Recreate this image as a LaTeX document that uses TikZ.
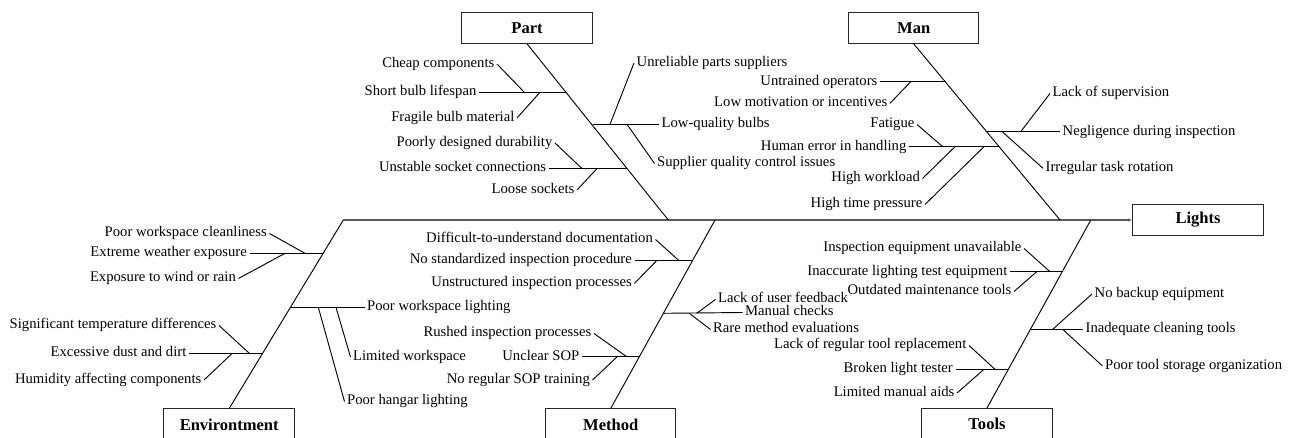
\documentclass[tikz,border=0pt]{standalone}
\usepackage{fontspec}
\setmainfont{Liberation Serif}
\usetikzlibrary{arrows.meta}
\begin{document}
\begin{tikzpicture}[x=0.75pt,y=-0.75pt,
  cat/.style={draw=black!85, line width=0.75pt, minimum width=97.9pt,
    minimum height=23.3pt, inner sep=0pt,
    font=\fontsize{12.4}{14}\selectfont\bfseries},
  lbl/.style={inner sep=1.8pt, font=\fontsize{11}{13}\selectfont,
    text height=7.5pt, text depth=2.3pt},
  le/.style={lbl, anchor=east},
  lw/.style={lbl, anchor=west},
  bone/.style={draw=black, line width=0.7pt},
  spine/.style={draw=black!65, line width=1.1pt}]
\useasboundingbox (0,0) rectangle (1292,438);

% category boxes and effect
\node[cat] (part)   at (527,27.7)    {Part};
\node[cat] (man)    at (913.7,27.8)  {Man};
\node[cat] (lights) at (1198,220)    {Lights};
\node[cat] (env)    at (229.2,424.5) {Environtment};
\node[cat] (method) at (610.7,424.5) {Method};
\node[cat] (tools)  at (987,424)     {Tools};

% spine and main bones
\coordinate (esp) at (343.3,220);
\coordinate (psp) at (668.3,220);
\coordinate (nsp) at (1060,220);
\coordinate (msp) at (715,220);
\coordinate (tsp) at (1090.8,220);
\draw[spine,-{Latex[length=3pt,width=2.4pt]}] (esp) -- (lights.west);
\draw[bone] (part.south) -- (psp);
\draw[bone] (man.south) -- (nsp);
\draw[bone] (env.north) -- (esp);
\draw[bone] (method.north) -- (msp);
\draw[bone] (tools.north) -- (tsp);

% ---- Part ----
\coordinate (p1) at (567.1,92.3);
\coordinate (p2) at (627.3,168.3);
\coordinate (p3) at (592.5,124.3);
\coordinate (p1a) at (524.3,92.3);
\coordinate (p1b) at (540,92.3);
\coordinate (p2a) at (581.7,168.3);
\coordinate (p2b) at (597.3,168.3);
\coordinate (p3a) at (610,124.3);
\coordinate (p3b) at (627,124.3);
\node[le] (cheap)   at (497,64)      {Cheap components};
\node[le] (short)   at (479,92.3)    {Short bulb lifespan};
\node[le] (fragile) at (517,118)     {Fragile bulb material};
\node[le] (durab)   at (555,143)     {Poorly designed durability};
\node[le] (unstab)  at (548.7,168.3) {Unstable socket connections};
\node[le] (loose)   at (577,190)     {Loose sockets};
\node[lw] (unrel)   at (634,63)      {Unreliable parts suppliers};
\node[lw] (lowq)    at (659,124.3)   {Low-quality bulbs};
\node[lw] (suppq)   at (654.5,163.5) {Supplier quality control issues};
\draw[bone] (short.east) -- (p1);
\draw[bone] (cheap.east) -- (p1a);
\draw[bone] (fragile.east) -- (p1b);
\draw[bone] (unstab.east) -- (p2);
\draw[bone] (durab.east) -- (p2a);
\draw[bone] (loose.east) -- (p2b);
\draw[bone] (p3) -- (lowq.west);
\draw[bone] (p3a) -- (unrel.west);
\draw[bone] (p3b) -- (suppq.west);

% ---- Man ----
\coordinate (m1) at (945.5,81.7);
\coordinate (m2) at (999.3,146.7);
\coordinate (m3) at (986.9,131.7);
\coordinate (m1a) at (910.7,81.7);
\coordinate (m2a) at (942.7,146.7);
\coordinate (m2b) at (955,146.7);
\coordinate (m2c) at (984,146.7);
\coordinate (m3a) at (1020.7,131.7);
\coordinate (m3b) at (1002.3,131.7);
\node[le] (untr)   at (880,81.7)   {Untrained operators};
\node[le] (lowmot) at (890,103.3)  {Low motivation or incentives};
\node[le] (fatig)  at (917,124.5)  {Fatigue};
\node[le] (human)  at (909,146.7)  {Human error in handling};
\node[le] (work)   at (922.5,178.5){High workload};
\node[le] (press)  at (925,204.5)  {High time pressure};
\node[lw] (superv) at (1050,93.5)  {Lack of supervision};
\node[lw] (neglig) at (1060,131.7) {Negligence during inspection};
\node[lw] (rotat)  at (1043,168.3) {Irregular task rotation};
\draw[bone] (untr.east) -- (m1);
\draw[bone] (lowmot.east) -- (m1a);
\draw[bone] (human.east) -- (m2);
\draw[bone] (fatig.east) -- (m2a);
\draw[bone] (work.east) -- (m2b);
\draw[bone] (press.east) -- (m2c);
\draw[bone] (m3) -- (neglig.west);
\draw[bone] (m3a) -- (superv.west);
\draw[bone] (m3b) -- (rotat.west);

% ---- Environtment ----
\coordinate (e1) at (323.2,253.3);
\coordinate (e2) at (262.8,353.3);
\coordinate (e3) at (290.6,307.3);
\coordinate (e1a) at (305,253.3);
\coordinate (e1b) at (285,253.3);
\coordinate (e2a) at (249.3,353.3);
\coordinate (e2b) at (232.3,353.3);
\coordinate (e3a) at (336,307.3);
\coordinate (e3b) at (318.3,307.3);
\node[le] (clean)   at (269.5,233.5) {Poor workspace cleanliness};
\node[le] (weath)   at (249.5,253.3) {Extreme weather exposure};
\node[le] (wind)    at (238.5,278.5) {Exposure to wind or rain};
\node[le] (temp)    at (219,325.5)   {Significant temperature differences};
\node[le] (dust)    at (189,353.3)   {Excessive dust and dirt};
\node[le] (humid)   at (204,380)     {Humidity affecting components};
\node[lw] (wslight) at (364.5,307.3) {Poor workspace lighting};
\node[lw] (limws)   at (350.5,357)   {Limited workspace};
\node[lw] (hangar)  at (344.5,401.5) {Poor hangar lighting};
\draw[bone] (weath.east) -- (e1);
\draw[bone] (clean.east) -- (e1a);
\draw[bone] (wind.east) -- (e1b);
\draw[bone] (dust.east) -- (e2);
\draw[bone] (temp.east) -- (e2a);
\draw[bone] (humid.east) -- (e2b);
\draw[bone] (e3) -- (wslight.west);
\draw[bone] (e3a) -- (limws.west);
\draw[bone] (e3b) -- (hangar.west);

% ---- Method ----
\coordinate (me1) at (692.9,260);
\coordinate (me2) at (639.6,356.7);
\coordinate (me3) at (663.5,313.3);
\coordinate (me1a) at (678.3,260);
\coordinate (me1b) at (657.3,260);
\coordinate (me2a) at (626.7,356.7);
\coordinate (me2b) at (617.3,356.7);
\coordinate (me3a) at (696.7,313.3);
\coordinate (me3b) at (689.3,313.3);
\node[le] (doc)    at (655.5,239.5) {Difficult-to-understand documentation};
\node[le] (nostd)  at (634.5,260)   {No standardized inspection procedure};
\node[le] (unstr)  at (634.5,283.3) {Unstructured inspection processes};
\node[le] (rushed) at (594,333.5)   {Rushed inspection processes};
\node[le] (sop)    at (582,356.7)   {Unclear SOP};
\node[le] (soptr)  at (592.5,380)   {No regular SOP training};
\node[lw] (feedb)  at (715.5,299.5) {Lack of user feedback};
\node[lw] (manual) at (742.5,312.5) {Manual checks};
\node[lw] (rare)   at (710.5,329.5) {Rare method evaluations};
\draw[bone] (nostd.east) -- (me1);
\draw[bone] (doc.east) -- (me1a);
\draw[bone] (unstr.east) -- (me1b);
\draw[bone] (sop.east) -- (me2);
\draw[bone] (rushed.east) -- (me2a);
\draw[bone] (soptr.east) -- (me2b);
\draw[bone] (me3) -- (manual.west);
\draw[bone] (me3a) -- (feedb.west);
\draw[bone] (me3b) -- (rare.west);

% ---- Tools ----
\coordinate (t1) at (1062.3,271.7);
\coordinate (t2) at (1008.5,369.3);
\coordinate (t3) at (1030.5,329.3);
\coordinate (t1a) at (1050,271.7);
\coordinate (t1b) at (1036.7,271.7);
\coordinate (t2a) at (995,369.3);
\coordinate (t2b) at (984,369.3);
\coordinate (t3a) at (1052.7,329.3);
\coordinate (t3b) at (1062.7,329.3);
\node[le] (unavail) at (1024,248.5) {Inspection equipment unavailable};
\node[le] (inacc)   at (1010,271.7) {Inaccurate lighting test equipment};
\node[le] (outd)    at (1014,291.5) {Outdated maintenance tools};
\node[le] (replac)  at (969,345.5)  {Lack of regular tool replacement};
\node[le] (broken)  at (955.5,369.3){Broken light tester};
\node[le] (limaid)  at (957,393)    {Limited manual aids};
\node[lw] (backup)  at (1092,294)   {No backup equipment};
\node[lw] (cleant)  at (1083,329.3) {Inadequate cleaning tools};
\node[lw] (storage) at (1102.5,366) {Poor tool storage organization};
\draw[bone] (inacc.east) -- (t1);
\draw[bone] (unavail.east) -- (t1a);
\draw[bone] (outd.east) -- (t1b);
\draw[bone] (broken.east) -- (t2);
\draw[bone] (replac.east) -- (t2a);
\draw[bone] (limaid.east) -- (t2b);
\draw[bone] (t3) -- (cleant.west);
\draw[bone] (t3a) -- (backup.west);
\draw[bone] (t3b) -- (storage.west);
\end{tikzpicture}
\end{document}
